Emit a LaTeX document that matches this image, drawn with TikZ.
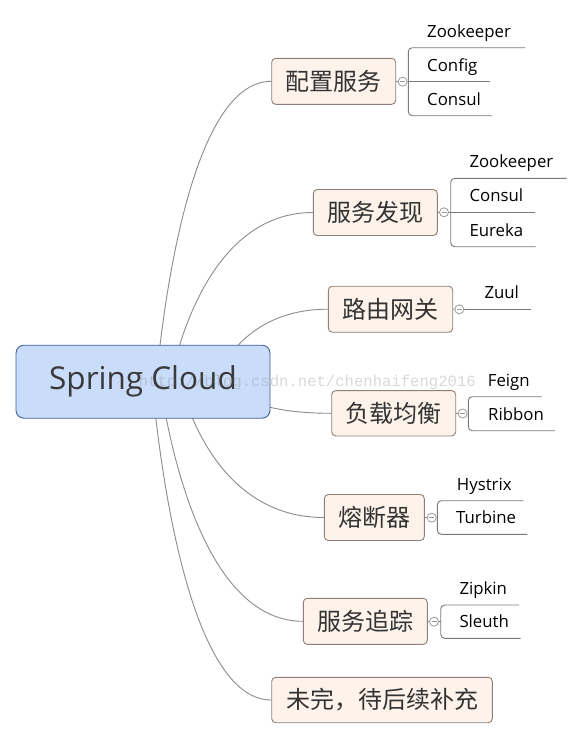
\documentclass[tikz,border=0pt]{standalone}
\usepackage{fontspec}
\setmainfont{Open Sans}
\newfontfamily\cjk{Noto Sans CJK SC}
\newfontfamily\wmfont{Liberation Mono}
\definecolor{rootfill}{HTML}{C9DCFA}
\definecolor{rootdraw}{HTML}{3F5F98}
\definecolor{roottxt}{HTML}{3A3A3A}
\definecolor{boxfill}{HTML}{FDF3EA}
\definecolor{boxdraw}{HTML}{8E7F78}
\definecolor{txt}{HTML}{333333}
\definecolor{linegray}{HTML}{8C8C8C}
\definecolor{subgray}{HTML}{7A7A7A}
\definecolor{foldgray}{HTML}{9A9A9A}
\begin{document}
\begin{tikzpicture}[x=1pt,y=-1pt,
  conn/.style={draw=linegray, line width=0.9pt},
  roottopic/.style={draw=rootdraw, fill=rootfill, rounded corners=8pt, line width=0.9pt, inner sep=0pt,
     minimum width=254pt, minimum height=73pt, font=\fontsize{31.5}{38}\selectfont, text=roottxt},
  topic/.style={draw=boxdraw, fill=boxfill, rounded corners=4pt, line width=0.9pt, inner sep=0pt,
     minimum height=46pt, font=\cjk\fontsize{24}{29}\selectfont, text=txt},
  sub/.style={anchor=base west, inner sep=0pt, font=\fontsize{16.8}{20}\selectfont, text=black},
  subline/.style={draw=subgray, line width=0.9pt, rounded corners=4pt},
  fold/.style={circle, draw=foldgray, fill=white, minimum size=9pt, inner sep=0pt, line width=0.8pt,
     path picture={\draw[foldgray, line width=0.8pt] ([xshift=2pt]path picture bounding box.west) -- ([xshift=-2pt]path picture bounding box.east);}}]
\useasboundingbox (0,0) rectangle (583,740);
\fill[white] (0,0) rectangle (583,740);

% main topics
\node[topic, minimum width=124pt] (t1) at (333.7,81.3) {配置服务};
\node[topic, minimum width=124pt] (t2) at (375.3,212.5) {服务发现};
\node[topic, minimum width=124.4pt] (t3) at (390.5,309.2) {路由网关};
\node[topic, minimum width=124pt, minimum height=45.3pt] (t4) at (393.7,413.3) {负载均衡};
\node[topic, minimum width=100pt] (t5) at (374.3,517.5) {熔断器};
\node[topic, minimum width=124pt] (t6) at (365.3,621.3) {服务追踪};
\node[topic, minimum width=220.6pt, minimum height=45.4pt] (t7) at (382,700) {未完，待后续补充};

% branch start points (hidden behind the root)
\coordinate (s1) at (156,382);
\coordinate (s2) at (170,382);
\coordinate (s3) at (215,382);
\coordinate (s4) at (240,395);
\coordinate (s5) at (180,382);
\coordinate (s6) at (160,382);
\coordinate (s7) at (152,382);
\draw[conn] (s1) .. controls +(11.6,-120) and +(-72,0) .. (t1.west);
\draw[conn] (s2) .. controls +(14.3,-68) and +(-89,0) .. (t2.west);
\draw[conn] (s3) .. controls +(11.3,-29) and +(-70,0) .. (t3.west);
\draw[conn] (s4) .. controls +(9,7) and +(-56,0) .. (t4.west);
\draw[conn] (s5) .. controls +(14.4,54) and +(-89.5,0) .. (t5.west);
\draw[conn] (s6) .. controls +(14.3,96) and +(-89,0) .. (t6.west);
\draw[conn] (s7) .. controls +(12,127) and +(-74,0) .. (t7.west);

% root
\node[roottopic] (root) at (143,381.7) {Spring Cloud};

% group 1
\node[fold] (f1) at (402.7,81.7) {};
\draw[conn] (t1.east) -- (f1.west);
\draw[subline] (525,47.7) -- (408.3,47.7) -- (408.3,115.7) -- (492,115.7);
\draw[subline] (f1.east) -- (490,81.7);
\node[sub] (a1) at (427,37.2) {Zookeeper};
\node[sub] (a2) at (427,71.2) {Config};
\node[sub] (a3) at (427,105.2) {Consul};

% group 2
\node[fold] (f2) at (444,212.3) {};
\draw[conn] (t2.east) -- (f2.west);
\draw[subline] (566.7,178.3) -- (450.7,178.3) -- (450.7,246.7) -- (535.7,246.7);
\draw[subline] (f2.east) -- (535,212.3);
\node[sub] (b1) at (469.3,167.8) {Zookeeper};
\node[sub] (b2) at (469.3,201.8) {Consul};
\node[sub] (b3) at (469.3,236.2) {Eureka};

% group 3
\node[fold] (f3) at (459.3,309.3) {};
\draw[conn] (t3.east) -- (f3.west);
\draw[subline] (f3.east) -- (530.7,309.3);
\node[sub] (c1) at (484.3,298.8) {Zuul};

% group 4
\node[fold] (f4) at (462.7,413.5) {};
\draw[conn] (t4.east) -- (f4.west);
\draw[subline] (541.7,396.7) -- (468.3,396.7) -- (468.3,430.7) -- (555,430.7);
\draw[subline] (f4.east) -- (468.3,413.5);
\node[sub] (d1) at (487.7,386.2) {Feign};
\node[sub] (d2) at (488,420.2) {Ribbon};

% group 5
\node[fold] (f5) at (431.7,517.7) {};
\draw[conn] (t5.east) -- (f5.west);
\draw[subline] (523.3,500.7) -- (437.3,500.7) -- (437.3,534.3) -- (527.3,534.3);
\draw[subline] (f5.east) -- (437.3,517.7);
\node[sub] (e1) at (456.7,490.2) {Hystrix};
\node[sub] (e2) at (456,523.8) {Turbine};

% group 6
\node[fold] (f6) at (434,621.7) {};
\draw[conn] (t6.east) -- (f6.west);
\draw[subline] (519,605) -- (440.7,605) -- (440.7,638.3) -- (520.7,638.3);
\draw[subline] (f6.east) -- (440.7,621.7);
\node[sub] (g1) at (459.3,594.5) {Zipkin};
\node[sub] (g2) at (459.3,627.8) {Sleuth};

% watermark
\node[anchor=base west, inner sep=0pt, font=\wmfont\fontsize{15.6}{18}\selectfont, text=gray, opacity=0.3] (wm) at (138.6,386) {http://blog.csdn.net/chenhaifeng2016};
\end{tikzpicture}
\end{document}
